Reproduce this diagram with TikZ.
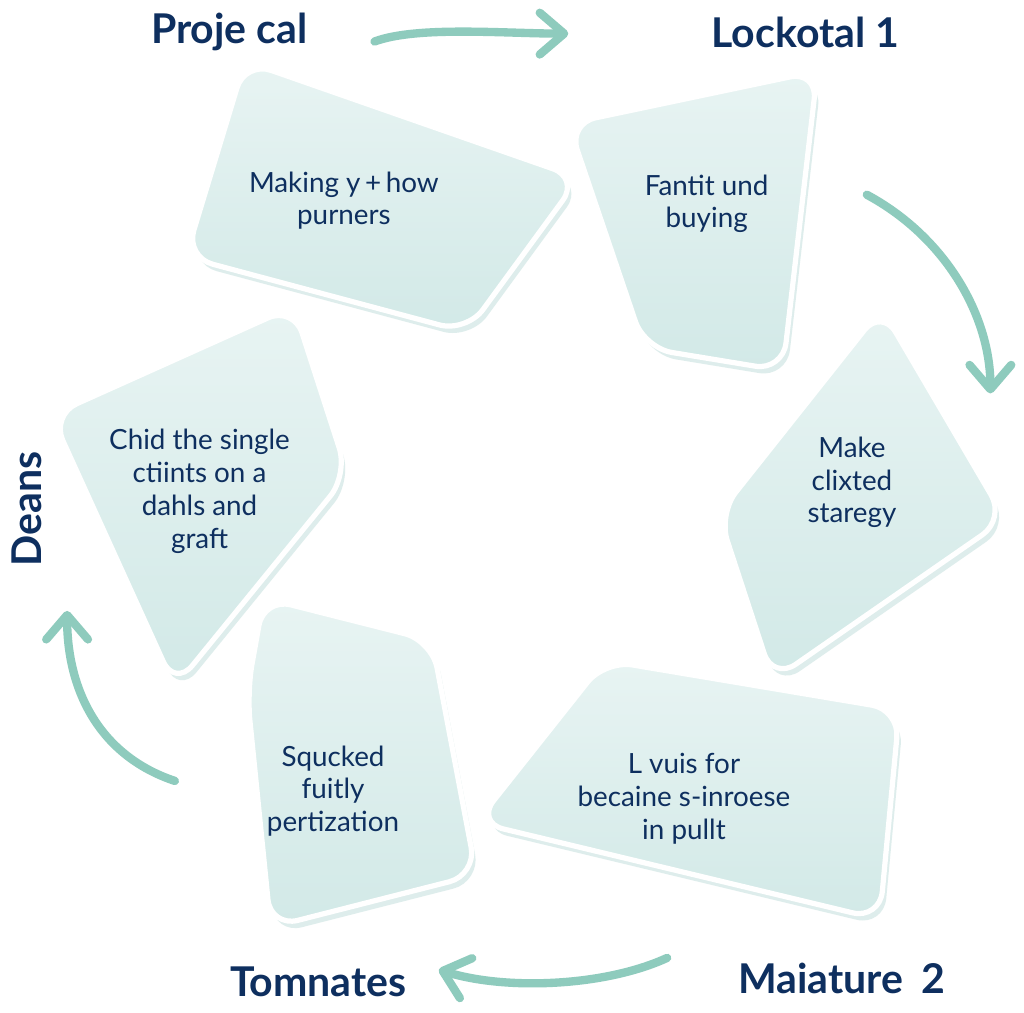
\documentclass[tikz,border=0pt]{standalone}
\usepackage{fontspec}
\setmainfont{Lato}
\usetikzlibrary{arrows.meta}

\definecolor{navy}{HTML}{0E2F5F}
\definecolor{cyclegreen}{HTML}{8ECBBD}
\definecolor{cardtop}{HTML}{E8F4F3}
\definecolor{cardbot}{HTML}{D2E9E7}
\definecolor{cardedge}{HTML}{C4E0DD}

\begin{document}
\begin{tikzpicture}[x=0.01cm,y=-0.01cm,
  card/.style={rounded corners=8pt, top color=cardtop, bottom color=cardbot,
    draw=white, line width=1.5pt,
    preaction={fill=cardedge, fill opacity=0.55, transform canvas={shift={(4,7)}}}},
  cardtext/.style={text=navy, align=center, font=\fontsize{8}{9.4}\selectfont},
  steplabel/.style={text=navy, font=\bfseries\fontsize{11.8}{13}\selectfont},
  cyclearrow/.style={draw=cyclegreen, line width=2.4pt, line cap=round,
    -{Straight Barb[length=7pt,width=12pt,line cap=round,line join=round]}}]
% canvas
\fill[white] (0,0) rectangle (1024,1024);

% cards
\path[card] (236,62) -- (574,180) -- (460,336) -- (176,260) -- cycle;
\path[card] (563,125) -- (815,72) -- (780,375) -- (640,352) -- cycle;
\path[card] (880,312) -- (1005,525) -- (770,688) -- (715,520) -- cycle;
\path[card] (600,668) -- (898,718) -- (878,930) -- (470,832) -- cycle;
\path[card] (255,605) -- (425,648) -- (470,885) -- (262,938) -- (238,700) -- cycle;
\path[card] (285,310) -- (340,480) -- (165,695) -- (40,420) -- cycle;

% card texts
\node[cardtext] (making) at (336,203) {Making y\,+\,how\\purners};
\node[cardtext] (fantit) at (703,206) {Fantit und\\buying};
\node[cardtext] (make) at (850,488) {Make\\clixted\\staregy};
\node[cardtext] (lvuis) at (680,808) {L vuis for\\becaine s-inroese\\in pullt};
\node[cardtext] (squcked) at (325,800) {Squcked\\fuitly\\pertization};
\node[cardtext] (chid) at (190,497) {Chid the single\\ctiints on a\\dahls and\\graft};

% step labels
\node[steplabel] (proj) at (220,32) {Proje cal};
\node[steplabel] (lock) at (803,33) {Lockotal 1};
\node[steplabel, rotate=90] (deans) at (15,515) {Deans};
\node[steplabel] (tomn) at (310,993) {Tomnates};
\node[steplabel] (maia) at (840,990) {Maiature\hspace{0.45em}2};

% cycle arrows
\coordinate (topS) at (367,42);
\coordinate (topE) at (563,34);
\coordinate (rightS) at (865,197);
\coordinate (rightE) at (990,398);
\coordinate (botS) at (663,969);
\coordinate (botE) at (432,981);
\coordinate (leftS) at (165,790);
\coordinate (leftE) at (56,618);
\draw[cyclearrow] (topS) .. controls (410,26) and (500,34) .. (topE);
\draw[cyclearrow] (rightS) .. controls (945,240) and (990,320) .. (rightE);
\draw[cyclearrow] (botS) .. controls (600,998) and (500,1002) .. (botE);
\draw[cyclearrow] (leftS) .. controls (90,765) and (56,700) .. (leftE);
\end{tikzpicture}
\end{document}
